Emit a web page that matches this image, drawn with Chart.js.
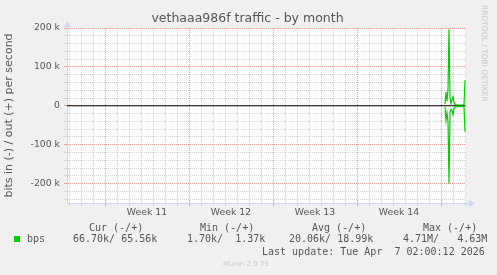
<!DOCTYPE html>
<html lang="en">
<head>
<meta charset="UTF-8">
<title>vethaaa986f traffic - by month</title>
<script src="https://cdn.jsdelivr.net/npm/chart.js"></script>
<style>
    body{ margin:0; background:#f0f0f0; }
    .container{ position:relative; width:497px; height:275px; background:#f0f0f0; overflow:hidden; }
    .container canvas{ position:absolute; left:0; top:0; }
    .txt{ position:absolute; white-space:pre; color:#555; }
    .title{ left:0; width:495px; top:10px; text-align:center; font:12.5px "DejaVu Sans"; line-height:15px; }
    .leg{ font:10px "DejaVu Sans Mono"; line-height:10px; }
    .mark{ position:absolute; width:6px; height:6px; background:#00cc00; left:14px; top:236px; }
    .rrd{ left:480px; top:5px; writing-mode:vertical-rl; font:7.5px "DejaVu Sans"; color:#c8c8c8; }
    .munin{ left:223px; top:260px; font:7px "DejaVu Sans"; color:#c8c8c8; }
</style>
</head>
<body>
<div class="container">
    <canvas id="myChart" width="497" height="275"></canvas>
    <div class="txt title">vethaaa986f traffic - by month</div>
    <div class="txt leg" style="left:89px;top:223px">Cur (-/+)</div>
    <div class="txt leg" style="left:200px;top:223px">Min (-/+)</div>
    <div class="txt leg" style="left:312px;top:223px">Avg (-/+)</div>
    <div class="txt leg" style="left:423px;top:223px">Max (-/+)</div>
    <div class="mark"></div>
    <div class="txt leg" style="left:27px;top:234px">bps</div>
    <div class="txt leg" style="left:73px;top:234px">66.70k/ 65.56k</div>
    <div class="txt leg" style="left:187px;top:234px">1.70k/  1.37k</div>
    <div class="txt leg" style="left:289px;top:234px">20.06k/ 18.99k</div>
    <div class="txt leg" style="left:403px;top:234px">4.71M/   4.63M</div>
    <div class="txt leg" style="left:262px;top:247px">Last update: Tue Apr  7 02:00:12 2026</div>
    <div class="txt rrd">RRDTOOL / TOBI OETIKER</div>
    <div class="txt munin">Munin 2.0.75</div>
</div>
<script>
// time in hours from the start of week 11
const weekLabels = ['Week 11', 'Week 12', 'Week 13', 'Week 14'];
const weekStarts = [0, 168, 336, 504, 672];
const xMin = -76, xMax = 722;

// 2h samples, values in bits/s
const sampleHours = [680, 682, 684, 686, 688, 690, 692, 694, 696, 698, 700,
                     702, 704, 706, 708, 710, 712, 714, 716, 718, 720];
const outBps = [4000, 35000, 12000, 42000, 197000, 22000, 6000, 16000, 23000, 9000, 3000,
                2000, 2500, 2000, 2000, 2000, 2000, 2000, 2000, 3000, 65560];
const inBps  = [3000, 38000, 18000, 42000, 200000, 16000, 9000, 12000, 23000, 7000, 3000,
                2000, 2000, 2500, 2000, 2000, 2000, 1700, 2000, 3000, 66700];

const yTickValues = [200000, 100000, 0, -100000, -200000];
const yTickLabels = ['200 k', '100 k', '0', '-100 k', '-200 k'];
const yMin = -250000, yMax = 200000;

const minorGrid = 'rgb(212,212,212)';
const majorGrid = 'rgb(235,160,160)';
const axisColor = '#CFD6F8';

// day ticks + week middles (for the labels)
let xTicks = [];
for (let h = -72; h <= xMax; h += 24) xTicks.push(h);
weekStarts.slice(0, 4).forEach(function(s){ xTicks.push(s + 84); });
xTicks.sort(function(a, b){ return a - b; });
let yTicks = [];
for (let v = -240000; v <= yMax; v += 20000) yTicks.push(v);

function isMid(v){ const i = weekStarts.indexOf(v - 84); return i >= 0 && i < 4; }
function xGridColor(ctx){
    const v = ctx.tick ? ctx.tick.value : null;
    if (v === null || isMid(v)) return 'rgba(0,0,0,0)';
    return weekStarts.indexOf(v) >= 0 ? majorGrid : minorGrid;
}
function yGridColor(ctx){
    const v = ctx.tick ? ctx.tick.value : null;
    if (v === null) return 'rgba(0,0,0,0)';
    return v % 100000 === 0 ? majorGrid : minorGrid;
}

const outData = sampleHours.map(function(h, i){ return {x: h, y: outBps[i]}; });
const inData = sampleHours.map(function(h, i){ return {x: h, y: -inBps[i]}; });

const munin = {
    id: 'munin',
    beforeDraw: function(chart){
        const a = chart.chartArea, c = chart.ctx;
        c.save();
        c.fillStyle = '#ffffff';
        c.fillRect(a.left, a.top, a.right - a.left, a.bottom - a.top);
        c.restore();
    },
    afterDraw: function(chart){
        const a = chart.chartArea, c = chart.ctx;
        c.save();
        c.fillStyle = axisColor;
        c.strokeStyle = axisColor;
        c.lineWidth = 1;
        // extend x axis + arrow
        c.beginPath(); c.moveTo(a.right, a.bottom + 0.5); c.lineTo(a.right + 3, a.bottom + 0.5); c.stroke();
        c.beginPath(); c.moveTo(a.right + 3, a.bottom - 3); c.lineTo(a.right + 9, a.bottom + 0.5); c.lineTo(a.right + 3, a.bottom + 4); c.closePath(); c.fill();
        // y axis arrow
        c.beginPath(); c.moveTo(a.left + 0.5, a.top); c.lineTo(a.left + 0.5, a.top - 1); c.stroke();
        c.beginPath(); c.moveTo(a.left - 3, a.top - 1); c.lineTo(a.left + 0.5, a.top - 7); c.lineTo(a.left + 4, a.top - 1); c.closePath(); c.fill();
        c.restore();
    }
};

const ctx = document.getElementById('myChart');
new Chart(ctx, {
    type: 'line',
    data: {
        datasets: [
            { label: 'out', data: outData, borderColor: '#00cc00', borderWidth: 1.2, pointRadius: 0, tension: 0, fill: false },
            { label: 'in', data: inData, borderColor: '#00cc00', borderWidth: 1.2, pointRadius: 0, tension: 0, fill: false },
            { label: 'zero', data: [{x: xMin, y: 0}, {x: xMax - 1, y: 0}], borderColor: '#000000', borderWidth: 1, pointRadius: 0, fill: false }
        ]
    },
    options: {
        responsive: false,
        animation: false,
        devicePixelRatio: 1,
        layout: { padding: { top: 28, right: 31, left: 0, bottom: 0 } },
        plugins: { legend: { display: false }, tooltip: { enabled: false }, title: { display: false } },
        scales: {
            x: {
                type: 'linear', min: xMin, max: xMax,
                afterBuildTicks: function(s){ s.ticks = xTicks.map(function(v){ return {value: v}; }); },
                afterFit: function(s){ s.height = 72; },
                ticks: {
                    autoSkip: false, maxRotation: 0, padding: 1,
                    font: { family: 'DejaVu Sans', size: 9.3 }, color: '#555',
                    callback: function(v){
                        const i = weekStarts.indexOf(v - 84);
                        return (i >= 0 && i < 4) ? weekLabels[i] : '';
                    }
                },
                grid: { color: xGridColor, tickColor: xGridColor, lineWidth: 1, drawTicks: true, tickLength: 3 },
                border: { color: axisColor, width: 1, dash: [1, 1] }
            },
            y: {
                type: 'linear', min: yMin, max: yMax,
                afterBuildTicks: function(s){ s.ticks = yTicks.map(function(v){ return {value: v}; }); },
                afterFit: function(s){ s.width = 67; },
                ticks: {
                    autoSkip: false, padding: 4,
                    font: { family: 'DejaVu Sans', size: 9.3 }, color: '#555',
                    callback: function(v){
                        const i = yTickValues.indexOf(v);
                        return i >= 0 ? yTickLabels[i] : '';
                    }
                },
                grid: { color: yGridColor, tickColor: yGridColor, lineWidth: 1, drawTicks: true, tickLength: 3 },
                border: { color: axisColor, width: 1, dash: [1, 1] },
                title: {
                    display: true, text: 'bits in (-) / out (+) per second',
                    font: { family: 'DejaVu Sans', size: 11 }, color: '#555',
                    padding: { top: 3, bottom: 0 }
                }
            }
        }
    },
    plugins: [munin]
});
</script>
</body>
</html>
